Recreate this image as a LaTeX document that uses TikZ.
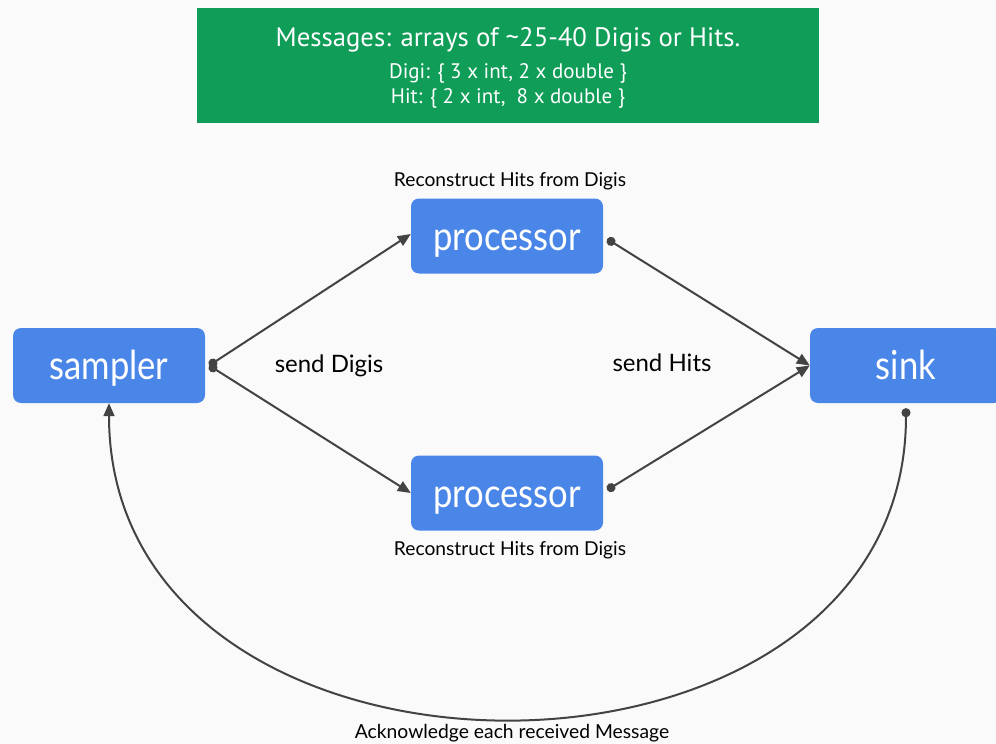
\documentclass[tikz,border=0pt]{standalone}
\usepackage{fontspec}
\setmainfont{Lato}
\newfontfamily\boxfont{PT Sans}
\newfontfamily\blockfont[FakeStretch=0.865]{Lato}
\usetikzlibrary{arrows.meta}
\definecolor{bg}{HTML}{FAFAFA}
\definecolor{nodeblue}{HTML}{4A86E8}
\definecolor{msggreen}{HTML}{0F9D58}
\definecolor{linegray}{HTML}{434343}
\begin{document}
\begin{tikzpicture}[x=1pt,y=-1pt,
  blockbox/.style={fill=nodeblue, rounded corners=8pt, text=white, inner sep=0pt,
    minimum width=192pt, minimum height=75pt, text height=28pt, text depth=0pt,
    font=\blockfont\fontsize{40}{44}\selectfont},
  lbl/.style={inner sep=0pt, text=black},
  conn/.style={draw=linegray, line width=2pt, {Circle[length=9pt]}-{Triangle[length=13pt,width=11pt]}}
]
\path[fill=bg, use as bounding box] (0,0) rectangle (996,744);
% message box
\node[fill=msggreen, minimum width=622pt, minimum height=115pt, inner sep=0pt] (msg) at (508,65.5) {};
\node[text=white, font=\boxfont\fontsize{21}{25}\selectfont, align=center, inner sep=0pt] (msgtext) at (508,68)
  {{\fontsize{26.7}{26}\selectfont Messages: arrays of \textasciitilde25-40 Digis or Hits.}\\[7pt]
   Digi: \{ 3 x int, 2 x double \}\\
   Hit: \{ 2 x int,\ \ 8 x double \}};
% blocks
\node[blockbox] (sampler) at (109,365.5) {sampler};
\node[blockbox] (proc1) at (507,236) {processor};
\node[blockbox] (proc2) at (507,493) {processor};
\node[blockbox] (sink) at (906,365.5) {sink};
% labels
\node[lbl, font=\fontsize{24}{28}\selectfont] (sd) at (329,366) {send Digis};
\node[lbl, font=\fontsize{24}{28}\selectfont] (sh) at (662,363) {send Hits};
\node[lbl, font=\fontsize{19.2}{22}\selectfont] (r1) at (510,181) {Reconstruct Hits from Digis};
\node[lbl, font=\fontsize{19.2}{22}\selectfont] (r2) at (510,550) {Reconstruct Hits from Digis};
\node[lbl, font=\fontsize{19.3}{22}\selectfont] (ack) at (512,733) {Acknowledge each received Message};
% connectors
\coordinate (sOut) at ([xshift=4pt]sampler.east);
\draw[conn] (sOut) -- ([yshift=2pt]proc1.west);
\draw[conn] (sOut) -- (proc2.west);
\draw[conn] ([xshift=4pt,yshift=-3pt]proc1.east) -- (sink.west);
\draw[conn] ([xshift=4pt,yshift=3pt]proc2.east) -- (sink.west);
\draw[conn] ([yshift=-5pt]sink.south) .. controls +(0,414) and +(0,419) .. (sampler.south);
\end{tikzpicture}
\end{document}
